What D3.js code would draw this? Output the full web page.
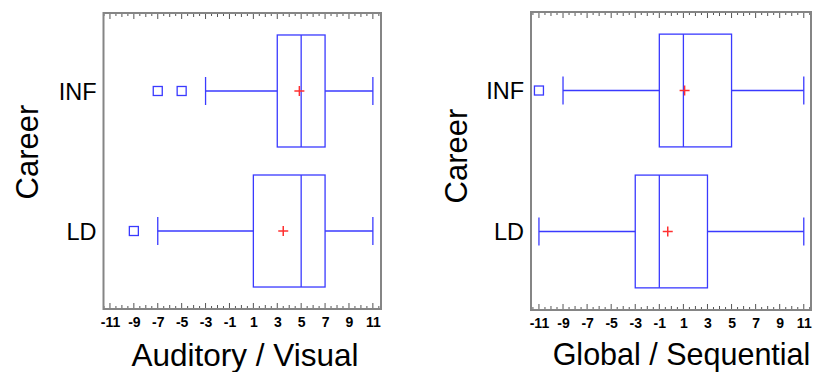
<!DOCTYPE html>
<html><head><meta charset="utf-8">
<script src="https://cdn.jsdelivr.net/npm/d3@7"></script>
<style>body{margin:0;background:#fff}svg{display:block}</style>
</head><body>
<svg id="c" width="821" height="372"></svg>
<script>
const categories = ["INF", "LD"];
const tickValues = [-11, -9, -7, -5, -3, -1, 1, 3, 5, 7, 9, 11];
// Panel 1: Auditory / Visual
const avWhiskerLow = [-3, -7];
const avQ1 = [3, 1];
const avMedian = [5, 5];
const avQ3 = [7, 7];
const avWhiskerHigh = [11, 11];
const avMean = [4.85, 3.5];
const avOutliers = [[-7, -5], [-9]];
// Panel 2: Global / Sequential
const gsWhiskerLow = [-9, -11];
const gsQ1 = [-1, -3];
const gsMedian = [1, -1];
const gsQ3 = [5, 3];
const gsWhiskerHigh = [11, 11];
const gsMean = [1.1, -0.3];
const gsOutliers = [[-11], []];

const panels = [
  {title: "Auditory / Visual", lo: avWhiskerLow, q1: avQ1, med: avMedian, q3: avQ3, hi: avWhiskerHigh, mean: avMean, out: avOutliers,
   x0: 103.5, x1: 381, dom: [-11.54, 11.68], y0: 13, y1: 309, yLabX: 26.5, yLabY: 152, tx: 245, ty: 366, ts: 31.5},
  {title: "Global / Sequential", lo: gsWhiskerLow, q1: gsQ1, med: gsMedian, q3: gsQ3, hi: gsWhiskerHigh, mean: gsMean, out: gsOutliers,
   x0: 531, x1: 811, dom: [-11.66, 11.6], y0: 12, y1: 310, yLabX: 456, yLabY: 156, tx: 681.5, ty: 365, ts: 30.5}
];

const svg = d3.select("#c");
const blue = "#3a3aff", red = "#ff3030", gray = "#858585";
const font = "Liberation Sans, Arial, sans-serif";

panels.forEach(p => {
  const g = svg.append("g");
  const x = d3.scaleLinear().domain(p.dom).range([p.x0, p.x1]);
  const y = d3.scalePoint().domain(categories).range([p.y0, p.y1]).padding(0.557);
  const step = y.step();
  const bh = step * 0.8;

  const minor = d3.range(-11.5, 11.51, 0.5).filter(v => v >= p.dom[0] && v <= p.dom[1]);
  const tlen = v => (Math.abs(v % 2) === 1 ? 6 : (Number.isInteger(v) ? 4 : 3));
  g.selectAll(".tb").data(minor).join("line")
    .attr("x1", d => x(d)).attr("x2", d => x(d))
    .attr("y1", p.y1).attr("y2", d => p.y1 - tlen(d))
    .attr("stroke", "#555").attr("stroke-width", 1);
  g.selectAll(".tt").data(minor).join("line")
    .attr("x1", d => x(d)).attr("x2", d => x(d))
    .attr("y1", p.y0).attr("y2", d => p.y0 + tlen(d))
    .attr("stroke", "#555").attr("stroke-width", 1);

  g.append("rect").attr("x", p.x0).attr("y", p.y0).attr("width", p.x1 - p.x0).attr("height", p.y1 - p.y0)
    .attr("fill", "none").attr("stroke", gray).attr("stroke-width", 2);

  const ax = d3.axisBottom(x).tickValues(tickValues).tickSize(0).tickPadding(8).tickFormat(d => String(d));
  const axg = g.append("g").attr("transform", `translate(0,${p.y1})`).call(ax);
  axg.select(".domain").remove();
  axg.selectAll("text").attr("font-family", font).attr("font-size", 14).attr("font-weight", "bold").attr("fill", "#000");

  const ay = d3.axisLeft(y).tickSize(0).tickPadding(7);
  const ayg = g.append("g").attr("transform", `translate(${p.x0},0)`).call(ay);
  ayg.select(".domain").remove();
  ayg.selectAll("text").attr("font-family", font).attr("font-size", 23.5).attr("fill", "#000").attr("dy", "0.35em");

  g.append("text").attr("x", p.tx).attr("y", p.ty).attr("text-anchor", "middle")
    .attr("font-family", font).attr("font-size", p.ts).attr("fill", "#000").text(p.title);
  g.append("text").attr("transform", `translate(${p.yLabX + 11},${p.yLabY}) rotate(-90)`).attr("text-anchor", "middle")
    .attr("font-family", font).attr("font-size", 31).attr("fill", "#000").text("Career");

  categories.forEach((c, i) => {
    const cy = y(c);
    const bg = g.append("g").attr("stroke", blue).attr("stroke-width", 1.3).attr("fill", "none");
    bg.append("line").attr("x1", x(p.lo[i])).attr("x2", x(p.q1[i])).attr("y1", cy).attr("y2", cy);
    bg.append("line").attr("x1", x(p.q3[i])).attr("x2", x(p.hi[i])).attr("y1", cy).attr("y2", cy);
    bg.append("line").attr("x1", x(p.lo[i])).attr("x2", x(p.lo[i])).attr("y1", cy - 14).attr("y2", cy + 14);
    bg.append("line").attr("x1", x(p.hi[i])).attr("x2", x(p.hi[i])).attr("y1", cy - 14).attr("y2", cy + 14);
    bg.append("rect").attr("x", x(p.q1[i])).attr("y", cy - bh / 2).attr("width", x(p.q3[i]) - x(p.q1[i])).attr("height", bh);
    bg.append("line").attr("x1", x(p.med[i])).attr("x2", x(p.med[i])).attr("y1", cy - bh / 2).attr("y2", cy + bh / 2);
    p.out[i].forEach(o => {
      bg.append("rect").attr("x", x(o) - 4.5).attr("y", cy - 4.5).attr("width", 9).attr("height", 9);
    });
    const mx = x(p.mean[i]);
    g.append("path").attr("d", `M${mx - 5},${cy}H${mx + 5}M${mx},${cy - 5}V${cy + 5}`)
      .attr("stroke", red).attr("stroke-width", 1.5).attr("fill", "none");
  });
});
</script>
</body></html>
